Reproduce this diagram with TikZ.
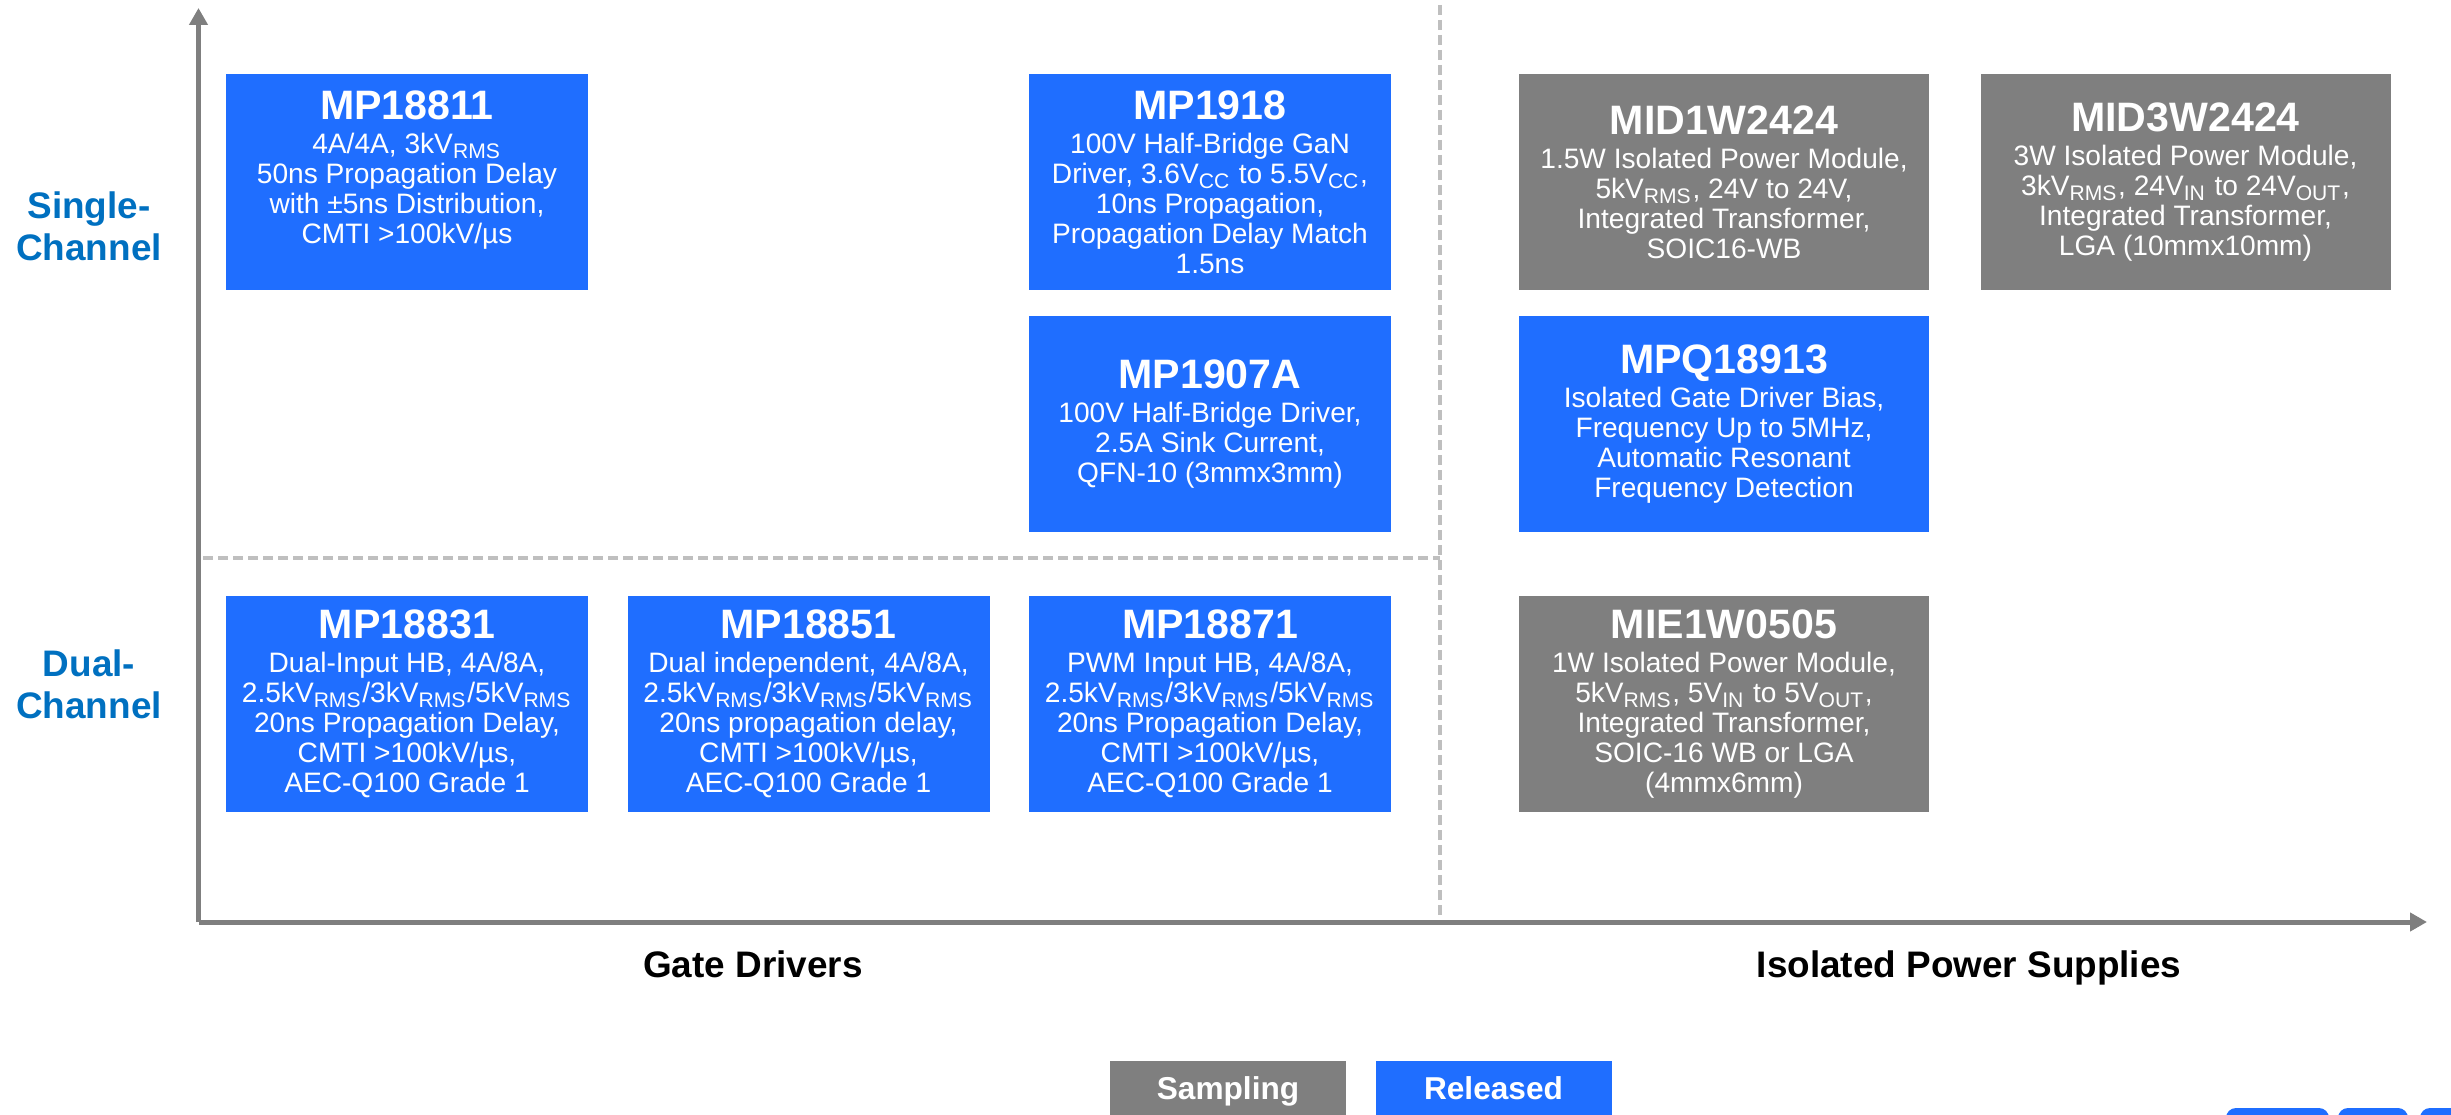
\documentclass[tikz,border=0pt]{standalone}
\usepackage{fontspec}
\setmainfont{Liberation Sans}
\usetikzlibrary{arrows.meta}

\definecolor{relblue}{RGB}{31,110,255}
\definecolor{smpgray}{RGB}{127,127,127}
\definecolor{rowblue}{RGB}{0,112,192}
\definecolor{gridgray}{RGB}{191,191,191}

\newcommand{\ptitle}[1]{{\fontsize{11.7}{12}\selectfont\bfseries #1}\\[1.2pt]}
\newcommand{\rms}{\textsubscript{RMS}}

\begin{document}
\begin{tikzpicture}[
  >={Triangle[width=0.18cm,length=0.17cm]},
  font=\fontsize{8}{8.5}\selectfont,
  chip/.style={
    text=white,
    minimum height=2.16cm,
    minimum width=3.62cm,
    inner sep=0pt,
    align=center
  },
  released/.style={chip,fill=relblue},
  sampling/.style={chip,fill=smpgray},
  wide/.style={minimum width=4.10cm},
  axis/.style={draw=smpgray,line width=0.05cm,->},
  grid/.style={
    draw=gridgray,
    line width=0.035cm,
    dash pattern=on 0.10cm off 0.05cm
  },
  rowlabel/.style={font=\fontsize{10.5}{12}\selectfont\bfseries,text=rowblue,align=center},
  collabel/.style={font=\fontsize{10.5}{12}\selectfont\bfseries,anchor=base},
  key/.style={
    text=white,
    minimum width=2.36cm,
    minimum height=0.60cm,
    text height=0.23cm,
    text depth=0.06cm,
    inner sep=0pt,
    font=\fontsize{9}{10}\selectfont\bfseries
  }
]
\useasboundingbox (0,0) rectangle (24.51,11.14);

% Axes and the dashed split between the four fields.
\coordinate (o)    at (1.985,1.92);
\coordinate (ytop) at (1.985,11.06);
\coordinate (xend) at (24.27,1.92);
\coordinate (vtop) at (14.40,11.09);
\coordinate (vbot) at (14.40,1.92);
\coordinate (hl)   at (2.03,5.56);
\coordinate (hr)   at (14.40,5.56);

\draw[grid] (vtop) -- (vbot);
\draw[grid] (hl) -- (hr);
\draw[axis] (o) -- (ytop);
\draw[axis] (o) -- (xend);

\node[rowlabel] (single) at (0.89,8.88) {Single-\\Channel};
\node[rowlabel] (dual)   at (0.89,4.30) {Dual-\\Channel};
\node[collabel] (gates)  at (7.53,1.37) {Gate Drivers};
\node[collabel] (power)  at (19.69,1.37) {Isolated Power Supplies};

% Gate drivers, single channel.
\node[released] (gd11) at (4.07,9.32) {\ptitle{MP18811}4A/4A, 3kV\rms\\50ns Propagation Delay\\with ±5ns Distribution,\\CMTI >100kV/µs\\\mbox{}};
\node[released] (gd13) at (12.10,9.32) {\ptitle{MP1918}100V Half-Bridge GaN\\Driver, 3.6V\textsubscript{CC} to 5.5V\textsubscript{CC},\\10ns Propagation,\\Propagation Delay Match\\1.5ns};
\node[released] (gd23) at (12.10,6.90) {\ptitle{MP1907A}100V Half-Bridge Driver,\\2.5A Sink Current,\\QFN-10 (3mmx3mm)};

% Gate drivers, dual channel.
\node[released] (gd31) at (4.07,4.10) {\ptitle{MP18831}Dual-Input HB, 4A/8A,\\2.5kV\rms/3kV\rms/5kV\rms\\20ns Propagation Delay,\\CMTI >100kV/µs,\\AEC-Q100 Grade 1};
\node[released] (gd32) at (8.085,4.10) {\ptitle{MP18851}Dual independent, 4A/8A,\\2.5kV\rms/3kV\rms/5kV\rms\\20ns propagation delay,\\CMTI >100kV/µs,\\AEC-Q100 Grade 1};
\node[released] (gd33) at (12.10,4.10) {\ptitle{MP18871}PWM Input HB, 4A/8A,\\2.5kV\rms/3kV\rms/5kV\rms\\20ns Propagation Delay,\\CMTI >100kV/µs,\\AEC-Q100 Grade 1};

% Isolated power supplies.
\node[sampling,wide] (ps11) at (17.24,9.32) {\ptitle{MID1W2424}1.5W Isolated Power Module,\\5kV\rms, 24V to 24V,\\Integrated Transformer,\\SOIC16-WB};
\node[sampling,wide] (ps12) at (21.855,9.32) {\ptitle{MID3W2424}3W Isolated Power Module,\\3kV\rms, 24V\textsubscript{IN} to 24V\textsubscript{OUT},\\Integrated Transformer,\\LGA (10mmx10mm)};
\node[released,wide] (ps21) at (17.24,6.90) {\ptitle{MPQ18913}Isolated Gate Driver Bias,\\Frequency Up to 5MHz,\\Automatic Resonant\\Frequency Detection};
\node[sampling,wide] (ps31) at (17.24,4.10) {\ptitle{MIE1W0505}1W Isolated Power Module,\\5kV\rms, 5V\textsubscript{IN} to 5V\textsubscript{OUT},\\Integrated Transformer,\\SOIC-16 WB or LGA\\(4mmx6mm)};

% Legend.
\node[key,fill=smpgray] (smp) at (12.28,0.23) {Sampling};
\node[key,fill=relblue] (rel) at (14.935,0.23) {Released};

% Cut-off buttons at the lower right.
\fill[relblue,rounded corners=0.1cm] (22.26,-0.40) rectangle (23.29,0.06);
\fill[relblue,rounded corners=0.1cm] (23.38,-0.40) rectangle (24.08,0.06);
\fill[relblue,rounded corners=0.1cm] (24.20,-0.40) rectangle (24.90,0.06);

\end{tikzpicture}
\end{document}
